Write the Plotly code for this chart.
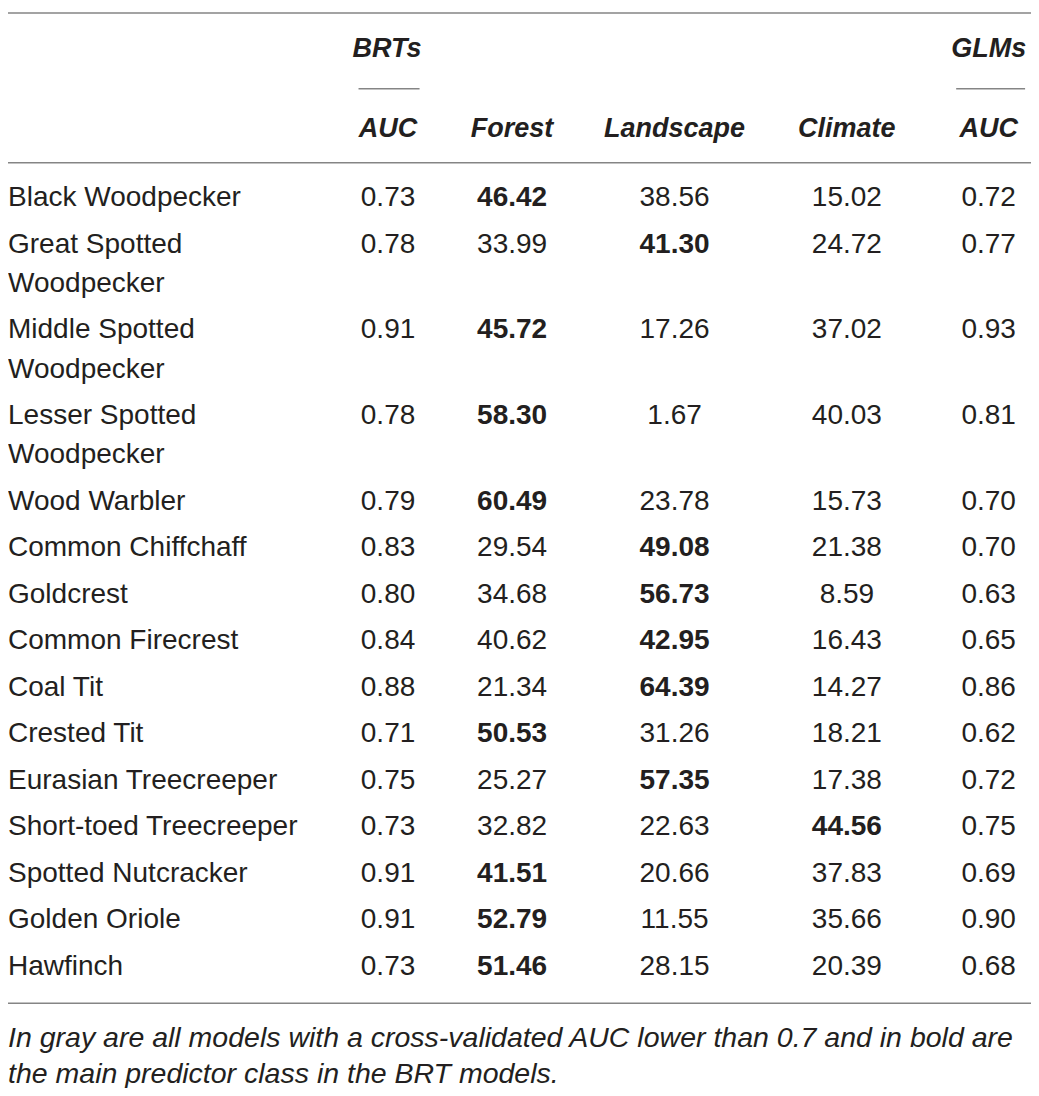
import plotly.graph_objects as go

species = ["Black Woodpecker", "Great Spotted<br>Woodpecker", "Middle Spotted<br>Woodpecker",
           "Lesser Spotted<br>Woodpecker", "Wood Warbler", "Common Chiffchaff", "Goldcrest",
           "Common Firecrest", "Coal Tit", "Crested Tit", "Eurasian Treecreeper",
           "Short-toed Treecreeper", "Spotted Nutcracker", "Golden Oriole", "Hawfinch"]
brt_auc = [0.73, 0.78, 0.91, 0.78, 0.79, 0.83, 0.80, 0.84, 0.88, 0.71, 0.75, 0.73, 0.91, 0.91, 0.73]
forest = [46.42, 33.99, 45.72, 58.30, 60.49, 29.54, 34.68, 40.62, 21.34, 50.53, 25.27, 32.82, 41.51, 52.79, 51.46]
landscape = [38.56, 41.30, 17.26, 1.67, 23.78, 49.08, 56.73, 42.95, 64.39, 31.26, 57.35, 22.63, 20.66, 11.55, 28.15]
climate = [15.02, 24.72, 37.02, 40.03, 15.73, 21.38, 8.59, 16.43, 14.27, 18.21, 17.38, 44.56, 37.83, 35.66, 20.39]
glm_auc = [0.72, 0.77, 0.93, 0.81, 0.70, 0.70, 0.63, 0.65, 0.86, 0.62, 0.72, 0.75, 0.69, 0.90, 0.68]

headers = ["AUC", "Forest", "Landscape", "Climate", "AUC"]
groups = ["BRTs", "GLMs"]
footnote = ["In gray are all models with a cross-validated AUC lower than 0.7 and in bold are",
            "the main predictor class in the BRT models."]

TXT = "#231f20"
FONT = "Liberation Sans"
FS = 28

# layout in reference pixel units; page body keeps an 8px margin so the figure is a bit smaller
W, H, M = 1039, 1096, 8
col_x = [386, 512, 677, 852, 996]
ROW, WRAP = 47.2, 39.8

row_y = []
name_x, name_y, name_t = [], [], []
y = 194
for s in species:
    row_y.append(y)
    for i, part in enumerate(s.split("<br>")):
        name_x.append(0)
        name_y.append(y + i * WRAP)
        name_t.append(part)
    y += ROW + WRAP * s.count("<br>")


def fmt(v, bold):
    t = f"{v:.2f}"
    return f"<b>{t}</b>" if bold else t


cols = [[f"{v:.2f}" for v in brt_auc], [], [], [], [f"{v:.2f}" for v in glm_auc]]
for f, l, c in zip(forest, landscape, climate):
    m = max(f, l, c)
    cols[1].append(fmt(f, f == m))
    cols[2].append(fmt(l, l == m))
    cols[3].append(fmt(c, c == m))

font = dict(family=FONT, size=FS, color=TXT)
fig = go.Figure()

fig.add_trace(go.Scatter(x=name_x, y=name_y, text=name_t, mode="text", cliponaxis=False,
                         textposition="middle right", textfont=font, hoverinfo="skip"))
for cx, vals in zip(col_x, cols):
    fig.add_trace(go.Scatter(x=[cx] * len(vals), y=row_y, text=vals, mode="text", cliponaxis=False,
                             textposition="middle center", textfont=font, hoverinfo="skip"))

hfont = dict(family=FONT, size=27, color=TXT)
fig.add_trace(go.Scatter(x=col_x, y=[124] * 5, text=[f"<b><i>{h}</i></b>" for h in headers],
                         mode="text", textposition="middle center", textfont=hfont,
                         cliponaxis=False, hoverinfo="skip"))
fig.add_trace(go.Scatter(x=[385, 996], y=[43, 43], text=[f"<b><i>{g}</i></b>" for g in groups],
                         mode="text", textposition="middle center", textfont=hfont,
                         cliponaxis=False, hoverinfo="skip"))

fig.add_trace(go.Scatter(x=[0, 0], y=[1047, 1084], text=[f"<i>{t}</i>" for t in footnote], mode="text",
                         textposition="middle right", textfont=dict(family=FONT, size=28.5, color=TXT),
                         cliponaxis=False, hoverinfo="skip"))

line = dict(color="#858585", width=1.5)
for yy in [5, 157, 1010]:
    fig.add_shape(type="line", x0=0, x1=W, y0=yy, y1=yy, line=line)
fig.add_shape(type="line", x0=356, x1=418, y0=82, y1=82, line=line)
fig.add_shape(type="line", x0=963, x1=1033, y0=82, y1=82, line=line)

fig.update_xaxes(range=[0, W], visible=False)
fig.update_yaxes(range=[H, 0], visible=False)
fig.update_layout(width=W - 2 * M, height=H - 2 * M, margin=dict(l=0, r=0, t=0, b=0),
                  plot_bgcolor="white", paper_bgcolor="white", showlegend=False)

fig.write_html("out.html")
